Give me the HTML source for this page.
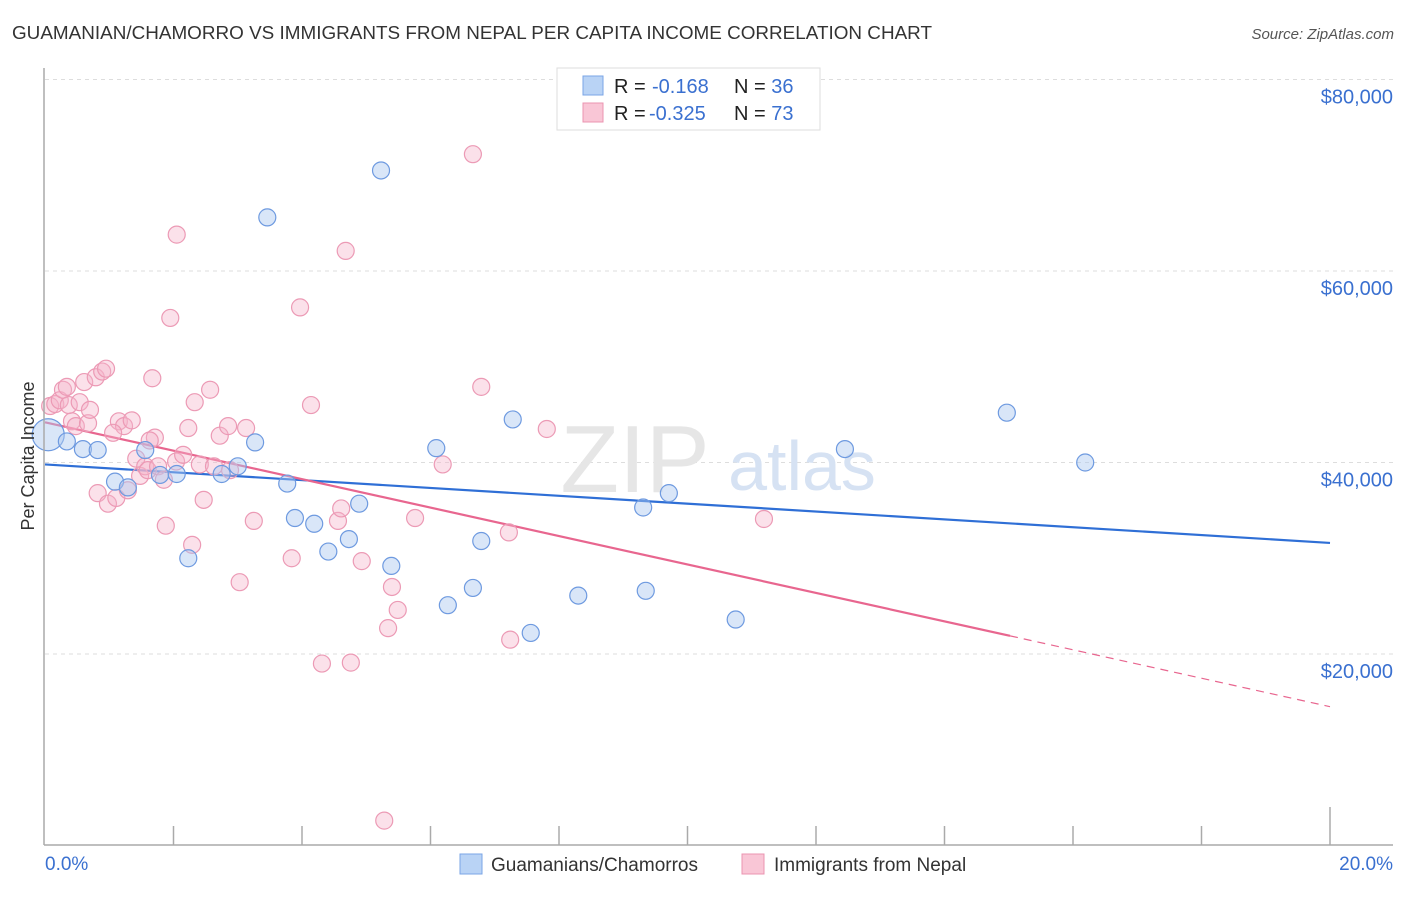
<!DOCTYPE html>
<html><head><meta charset="utf-8"><style>
body{margin:0;background:#fff;font-family:"Liberation Sans",sans-serif;}
svg text{font-family:"Liberation Sans",sans-serif;}
</style></head><body>
<svg id="chart" width="1406" height="892" viewBox="0 0 1406 892">
<text x="12" y="39" font-size="18" fill="#333" textLength="920" lengthAdjust="spacingAndGlyphs">GUAMANIAN/CHAMORRO VS IMMIGRANTS FROM NEPAL PER CAPITA INCOME CORRELATION CHART</text>
<text x="1394" y="39" font-size="15" fill="#555" font-style="italic" text-anchor="end">Source: ZipAtlas.com</text>
<g id="grid"></g>
<text x="635" y="492" font-size="96" fill="#e6e6e6" font-family="Liberation Serif" text-anchor="middle">ZIP</text>
<text x="802" y="490" font-size="70" fill="#d6e2f3" text-anchor="middle">atlas</text>
<g id="lines"></g>
<g id="pts"></g>
<line x1="44" y1="68" x2="44" y2="845" stroke="#aaa" stroke-width="1.5"/>
<line x1="44" y1="845" x2="1393" y2="845" stroke="#aaa" stroke-width="1.5"/>
<text transform="translate(34,456) rotate(-90)" font-size="18" fill="#333" text-anchor="middle">Per Capita Income</text>
<text x="45" y="870" font-size="19" fill="#3a70d0">0.0%</text>
<text x="1393" y="870" font-size="19" fill="#3a70d0" text-anchor="end">20.0%</text>
<g>
<rect x="557" y="68" width="263" height="62" fill="#fff" stroke="#ddd"/>
<rect x="583" y="76" width="20" height="19" fill="#b9d3f5" stroke="#7aa5e6"/>
<rect x="583" y="103" width="20" height="19" fill="#f9c6d6" stroke="#eb94b0"/>
<text x="614" y="93" font-size="20" fill="#222">R = <tspan x="652" fill="#3a70d0">-0.168</tspan><tspan x="734">N = </tspan><tspan fill="#3a70d0">36</tspan></text>
<text x="614" y="120" font-size="20" fill="#222">R = <tspan x="649" fill="#3a70d0">-0.325</tspan><tspan x="734">N = </tspan><tspan fill="#3a70d0">73</tspan></text>
</g>
<g>
<rect x="460" y="854" width="22" height="20" fill="#b9d3f5" stroke="#7aa5e6"/>
<text x="491" y="871" font-size="19" fill="#333">Guamanians/Chamorros</text>
<rect x="742" y="854" width="22" height="20" fill="#f9c6d6" stroke="#eb94b0"/>
<text x="774" y="871" font-size="19" fill="#333">Immigrants from Nepal</text>
</g>
</svg>
<script>
const yTicks=[20,40,60,80];
const yTickLabels=["$20,000","$40,000","$60,000","$80,000"];
const xTicks=[0,2,4,6,8,10,12,14,16,18,20];
const blueX=[0.05,0.34,0.59,0.82,1.09,1.29,1.56,1.79,2.05,2.23,2.75,3.00,3.27,3.46,3.77,3.89,4.19,4.41,4.73,4.89,5.23,5.39,6.09,6.27,6.66,6.79,7.28,7.56,8.30,9.31,9.35,9.71,10.75,12.45,14.97,16.19];
const blueY=[42.9,42.2,41.4,41.3,38.0,37.4,41.3,38.7,38.8,30.0,38.8,39.6,42.1,65.6,37.8,34.2,33.6,30.7,32.0,35.7,70.5,29.2,41.5,25.1,26.9,31.8,44.5,22.2,26.1,35.3,26.6,36.8,23.6,41.4,45.2,40.0];
const pinkX=[0.08,0.16,0.23,0.28,0.34,0.37,0.42,0.48,0.54,0.61,0.67,0.70,0.79,0.82,0.89,0.95,0.98,1.11,1.15,1.23,1.29,1.35,1.42,1.48,1.56,1.60,1.67,1.71,1.76,1.85,1.88,1.95,2.04,2.05,2.15,2.23,2.29,2.33,2.41,2.47,2.57,2.63,2.72,2.85,3.03,3.13,3.25,3.84,3.97,4.14,4.31,4.56,4.61,4.68,4.76,4.93,5.28,5.34,5.40,5.49,5.76,6.19,6.66,6.79,7.22,7.24,7.81,11.19,1.06,1.63,2.88];
const pinkY=[45.9,46.1,46.5,47.6,47.9,46.0,44.3,43.8,46.3,48.4,44.1,45.5,48.9,36.8,49.5,49.8,35.7,36.3,44.3,43.8,37.1,44.4,40.4,38.6,39.6,39.2,48.8,42.6,39.6,38.2,33.4,55.1,40.1,63.8,40.8,43.6,31.4,46.3,39.8,36.1,47.6,39.6,42.8,43.8,27.5,43.6,33.9,30.0,56.2,46.0,19.0,33.9,35.2,62.1,19.1,29.7,2.6,22.7,27.0,24.6,34.2,39.8,72.2,47.9,32.7,21.5,43.5,34.1,43.1,42.3,39.2];
const blueTrend=[39.8,31.6];
const pinkTrend=[44.2,14.5];
const pinkSolidEnd=15.02;
const NS="http://www.w3.org/2000/svg";
const X=v=>45+v/20*1285;
const Y=v=>845.5-v/20*191.5;
function mk(t,a,p){const e=document.createElementNS(NS,t);for(const k in a)e.setAttribute(k,a[k]);p.appendChild(e);return e;}
const grid=document.getElementById('grid');
yTicks.forEach((t,i)=>{
 const l=mk('line',{x1:45,x2:1393,y1:Y(t),y2:Y(t),stroke:'#ddd','stroke-dasharray':'4,4'},grid);
 
 
 const tx=mk('text',{x:1393,y:Y(t)+24,'font-size':20,fill:'#3a70d0','text-anchor':'end'},grid);
 tx.textContent=yTickLabels[i];
 
 
});
xTicks.forEach((t,i)=>{
 if(i===0)return;
 const l=mk('line',{x1:X(t),x2:X(t),y1:(i===xTicks.length-1)?807:826,y2:845,stroke:'#aaa','stroke-width':1.5},grid);
 
 
});
const lines=document.getElementById('lines');
const at=(tr,x)=>tr[0]+(tr[1]-tr[0])*x/20;
let b=mk('line',{x1:X(0),y1:Y(blueTrend[0]),x2:X(20),y2:Y(blueTrend[1]),stroke:'#2f6fd6','stroke-width':2.2},lines);


let p=mk('line',{x1:X(0),y1:Y(pinkTrend[0]),x2:X(pinkSolidEnd),y2:Y(at(pinkTrend,pinkSolidEnd)),stroke:'#e8668f','stroke-width':2.2},lines);


let pd=mk('line',{x1:X(pinkSolidEnd),y1:Y(at(pinkTrend,pinkSolidEnd)),x2:X(20),y2:Y(pinkTrend[1]),stroke:'#e8668f','stroke-width':1.2,'stroke-dasharray':'8,6'},lines);


const pts=document.getElementById('pts');
pinkX.forEach((x,i)=>{
 const c=mk('circle',{cx:X(x),cy:Y(pinkY[i]),r:8.5,fill:'rgba(246,180,202,0.4)',stroke:'#ec9ab5','stroke-width':1.2},pts);
 
 
});
blueX.forEach((x,i)=>{
 const c=mk('circle',{cx:X(x),cy:Y(blueY[i]),r:i===0?16:8.5,fill:'rgba(170,200,240,0.45)',stroke:'#6e9ae0','stroke-width':1.2},pts);
 
 
});
</script>
</body></html>
